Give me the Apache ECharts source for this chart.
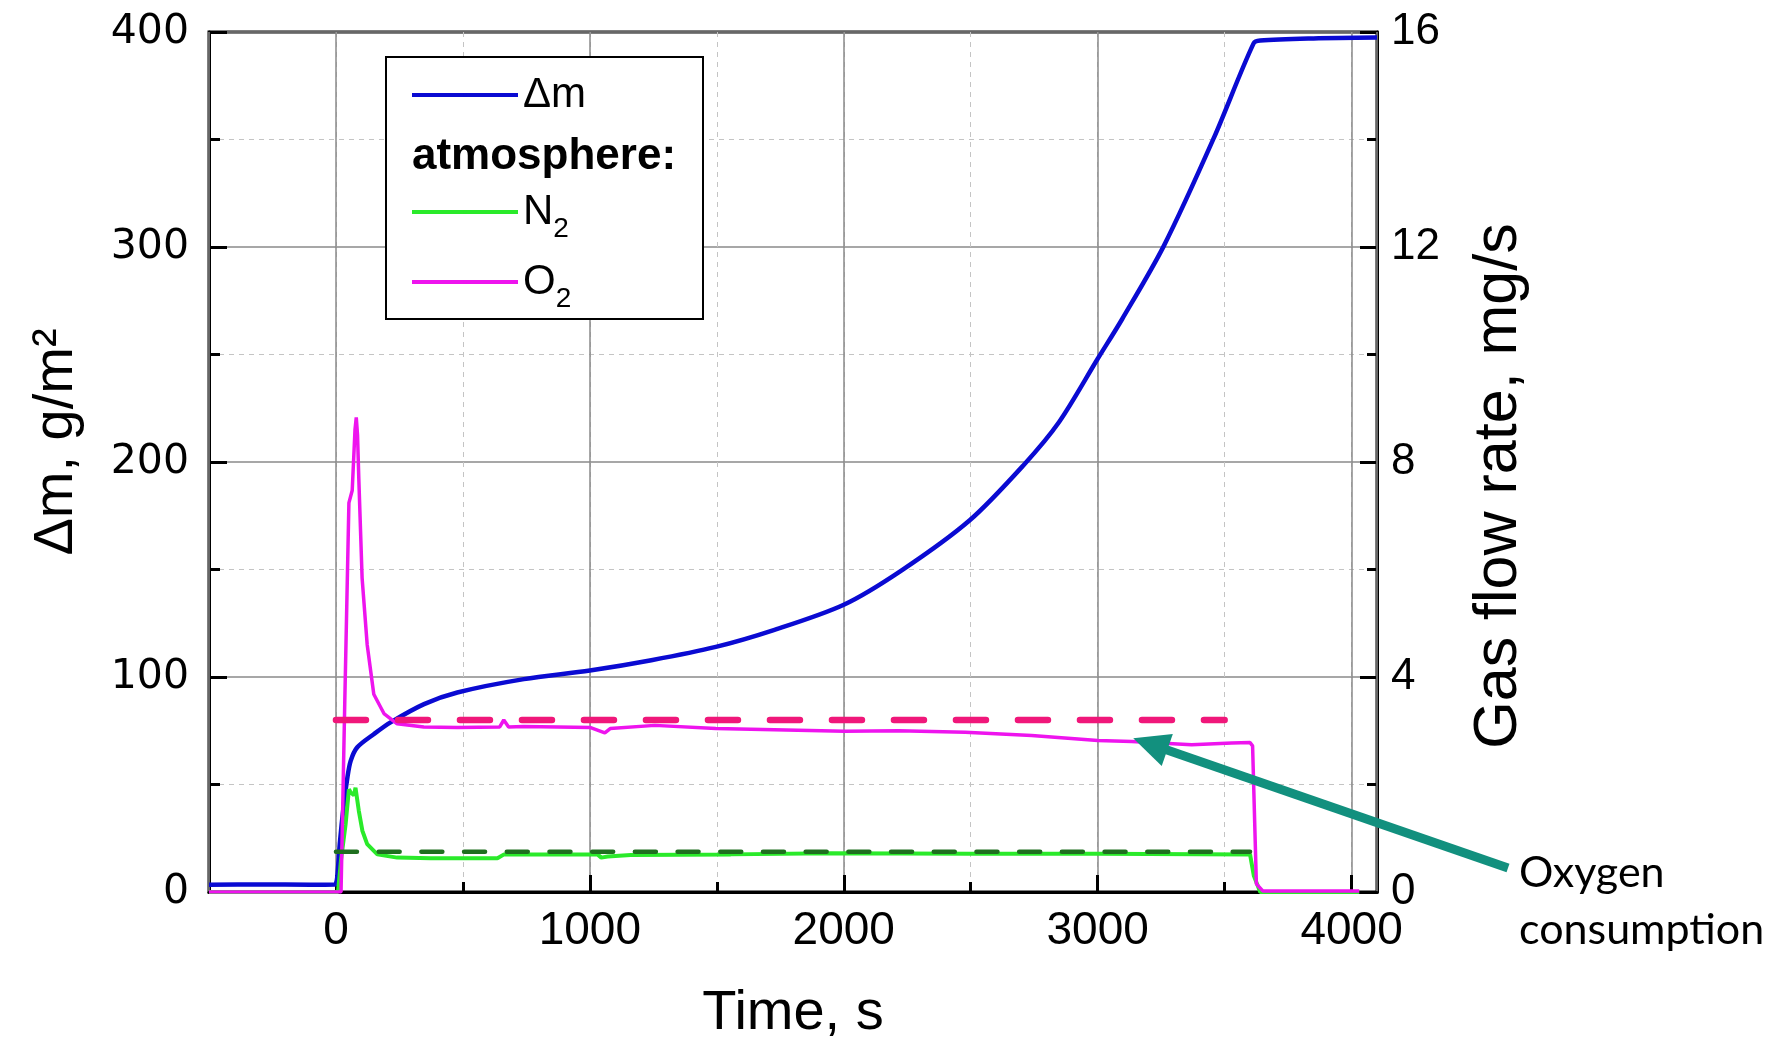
<!DOCTYPE html>
<html><head><meta charset="utf-8">
<script src="https://cdn.jsdelivr.net/npm/echarts@6/dist/echarts.min.js"></script>
<style>html,body{margin:0;padding:0;background:#fff}#c{width:1787px;height:1047px}</style>
</head><body><div id="c"></div>
<script>
// ---- data ----
const dmTime  = [-500, -300, -100, -5, 0, 5, 15, 31, 45, 58, 84, 150, 215, 347, 478, 740, 1000, 1242, 1496, 1721, 2000, 2228, 2496, 2707, 2848, 3000, 3096, 3260, 3457, 3614, 3640, 3850, 4100];
const dmValue = [3.4, 3.5, 3.4, 3.5, 4, 6.8, 22.3, 40.8, 53.2, 61, 67.3, 73.5, 78.9, 87.4, 92.8, 99, 103, 107.8, 114, 121.7, 133.6, 149.6, 172.9, 198.4, 218.6, 248, 266.4, 300.4, 350.6, 394.7, 396, 397, 397.4];

const o2Time = [-500, 0, 20, 35, 51, 64, 75, 80, 85, 90, 103, 123, 149, 189, 241, 346, 478, 645, 661, 680, 740, 1003, 1059, 1080, 1256, 1496, 2003, 2215, 2478, 2740, 3000, 3134, 3370, 3528, 3600, 3610, 3625, 3650, 4030];
const o2Flow = [0, 0, 0, 3.6, 7.24, 7.47, 8.6, 8.83, 8.5, 7.69, 5.84, 4.6, 3.68, 3.32, 3.13, 3.07, 3.06, 3.07, 3.2, 3.07, 3.08, 3.06, 2.96, 3.04, 3.1, 3.04, 2.99, 3.0, 2.97, 2.91, 2.82, 2.8, 2.74, 2.77, 2.78, 2.72, 0.15, 0.02, 0.02];

const n2Time = [-500, 0, 8, 20, 38, 51, 58, 64, 71, 77, 90, 104, 123, 163, 241, 373, 636, 662, 1030, 1045, 1070, 1161, 1555, 1949, 2500, 3000, 3600, 3615, 3640, 4030];
const n2Flow = [0, 0, 0, 0.6, 1.26, 1.91, 1.85, 1.88, 1.80, 1.94, 1.51, 1.14, 0.89, 0.70, 0.64, 0.63, 0.63, 0.70, 0.70, 0.64, 0.66, 0.69, 0.70, 0.72, 0.71, 0.71, 0.70, 0.3, 0, 0];

const o2SetTime = [0, 3500];
const o2SetFlow = [3.2, 3.2];
const n2SetTime = [0, 3600];
const n2SetFlow = [0.75, 0.75];

const arrowTarget = [3140, 2.86];   // time, mg/s on the O2 trace

const xLabels = [0, 1000, 2000, 3000, 4000];
const legendNames = ['Δm', 'N2', 'O2'];

// ---- chart ----
const zip = (a, b) => a.map((t, i) => [t, b[i]]);
const FONT = '"Liberation Sans", Arial, sans-serif';
const chart = echarts.init(document.getElementById('c'), null, {renderer: 'canvas'});

const tickStyle = {color: '#000', width: 3};
const subText = {
  formatter: n => n.charAt(0) + '{sub|2}',
  textStyle: {fontFamily: FONT, fontSize: 42, color: '#000', lineHeight: 62,
    rich: {sub: {fontFamily: FONT, fontSize: 28, color: '#000', lineHeight: 28, verticalAlign: 'bottom'}}}
};
const legendBase = {left: 410, orient: 'vertical', padding: 0, itemWidth: 106, itemHeight: 4, selectedMode: false, z: 6, lineStyle: {width: 4}};

const option = {
  animation: false,
  backgroundColor: '#fff',
  grid: {left: 209, right: 410, top: 32, bottom: 152, show: true, borderColor: '#000', borderWidth: 3, backgroundColor: 'transparent'},
  xAxis: [
    {
      type: 'value', min: -500, max: 4100, minInterval: 1000, maxInterval: 1000, position: 'bottom', z: 1,
      name: 'Time, s', nameLocation: 'middle', nameGap: 94,
      nameTextStyle: {fontFamily: FONT, fontSize: 56, color: '#000'},
      axisLine: {show: true, onZero: false, lineStyle: {color: '#000', width: 3}},
      axisTick: {show: true, inside: true, length: 17, lineStyle: tickStyle},
      axisLabel: {fontFamily: FONT, fontSize: 46, color: '#000', margin: 16, showMinLabel: false, showMaxLabel: false,
        formatter: v => (xLabels.indexOf(v) >= 0 ? String(v) : '')},
      splitLine: {show: true, lineStyle: {color: '#8a8a8a', width: 1.5}}
    },
    {
      type: 'value', min: -500, max: 4100, minInterval: 500, maxInterval: 500, position: 'bottom', z: 0,
      axisLine: {show: false, onZero: false},
      axisTick: {show: true, inside: true, length: 10, lineStyle: tickStyle},
      axisLabel: {show: false},
      splitLine: {show: true, lineStyle: {color: '#c4c4c4', width: 1, type: [5, 5]}}
    }
  ],
  yAxis: [
    {
      type: 'value', min: 0, max: 400, interval: 100, position: 'left',
      name: 'Δm, g/m²', nameLocation: 'middle', nameGap: 124,
      nameTextStyle: {fontFamily: FONT, fontSize: 56, color: '#000', padding: [0, 0, 0, 40]},
      axisLine: {show: true, onZero: false, lineStyle: {color: '#000', width: 3}},
      axisTick: {show: true, inside: true, length: 18, lineStyle: tickStyle},
      minorTick: {show: true, splitNumber: 2, length: 11, lineStyle: tickStyle},
      axisLabel: {fontFamily: '"DejaVu Sans", sans-serif', fontSize: 41, color: '#000', margin: 20},
      splitLine: {show: true, lineStyle: {color: '#8a8a8a', width: 1.5}},
      minorSplitLine: {show: true, lineStyle: {color: '#c4c4c4', width: 1, type: [5, 5]}}
    },
    {
      type: 'value', min: 0, max: 16, interval: 4, position: 'right',
      name: 'Gas flow rate, mg/s', nameLocation: 'middle', nameGap: 92,
      nameTextStyle: {fontFamily: FONT, fontSize: 61, color: '#000', padding: [0, 48, 0, 0]},
      axisLine: {show: true, onZero: false, lineStyle: {color: '#000', width: 3}},
      axisTick: {show: true, inside: true, length: 17, lineStyle: tickStyle},
      minorTick: {show: true, splitNumber: 2, length: 10, lineStyle: tickStyle},
      axisLabel: {fontFamily: FONT, fontSize: 44, color: '#000', margin: 14},
      splitLine: {show: false}
    }
  ],
  legend: [
    Object.assign({}, legendBase, {data: [legendNames[0]], top: 73,
      textStyle: {fontFamily: FONT, fontSize: 42, color: '#000', lineHeight: 44}}),
    Object.assign({}, legendBase, subText, {data: [legendNames[1]], top: 181}),
    Object.assign({}, legendBase, subText, {data: [legendNames[2]], top: 251})
  ],
  series: [
    {name: 'Δm', type: 'line', xAxisIndex: 0, yAxisIndex: 0, data: zip(dmTime, dmValue), symbol: 'none', showSymbol: false,
      smooth: 0.3, z: 2, color: '#0a0ad2', lineStyle: {color: '#0a0ad2', width: 4.5}},
    {name: 'N2', type: 'line', xAxisIndex: 0, yAxisIndex: 1, data: zip(n2Time, n2Flow), symbol: 'none', showSymbol: false,
      z: 3, color: '#2aea2a', lineStyle: {color: '#2aea2a', width: 4}},
    {name: 'O2', type: 'line', xAxisIndex: 0, yAxisIndex: 1, data: zip(o2Time, o2Flow), symbol: 'none', showSymbol: false,
      z: 4, color: '#ee14ee', lineStyle: {color: '#ee14ee', width: 3.5}},
    {name: 'O2 set', type: 'line', xAxisIndex: 0, yAxisIndex: 1, data: zip(o2SetTime, o2SetFlow), symbol: 'none', silent: true,
      z: 5, color: '#f0177a', lineStyle: {color: '#f0177a', width: 6.5, type: [30, 32], cap: 'round'}},
    {name: 'N2 set', type: 'line', xAxisIndex: 0, yAxisIndex: 1, data: zip(n2SetTime, n2SetFlow), symbol: 'none', silent: true,
      z: 5, color: '#1f6f1f', lineStyle: {color: '#1f6f1f', width: 4.5, type: [21, 21.7], cap: 'round'}}
  ]
};
chart.setOption(option);

// annotation arrow pointing at the O2 trace
const head = chart.convertToPixel({xAxisIndex: 0, yAxisIndex: 1}, arrowTarget);
const tail = [1508, 868];
const dx = head[0] - tail[0], dy = head[1] - tail[1];
const len = Math.sqrt(dx * dx + dy * dy);
const ux = dx / len, uy = dy / len, px = -uy, py = ux;
const L = 36, W = 17;
const base = [head[0] - ux * L, head[1] - uy * L];
chart.setOption({
  graphic: [
    {type: 'rect', z: 3, shape: {x: 386, y: 57, width: 317, height: 262}, style: {fill: '#fff', stroke: '#000', lineWidth: 2}},
    {type: 'text', z: 7, x: 412, y: 157, style: {text: 'atmosphere:', font: 'bold 44px ' + FONT, fill: '#000', textAlign: 'left', textVerticalAlign: 'middle', align: 'left', verticalAlign: 'middle'}},
    {type: 'line', z: 7, shape: {x1: tail[0], y1: tail[1], x2: base[0] + ux * 4, y2: base[1] + uy * 4}, style: {stroke: '#12907e', lineWidth: 9}},
    {type: 'polygon', z: 7, shape: {points: [head, [base[0] + px * W, base[1] + py * W], [base[0] - px * W, base[1] - py * W]]}, style: {fill: '#12907e'}},
    {type: 'text', z: 7, x: 1519, y: 902, style: {text: 'Oxygen\nconsumption', font: '43px Lato, "Open Sans", sans-serif', lineHeight: 57, fill: '#000', textAlign: 'left', textVerticalAlign: 'middle', align: 'left', verticalAlign: 'middle'}}
  ]
});
</script>
</body></html>
